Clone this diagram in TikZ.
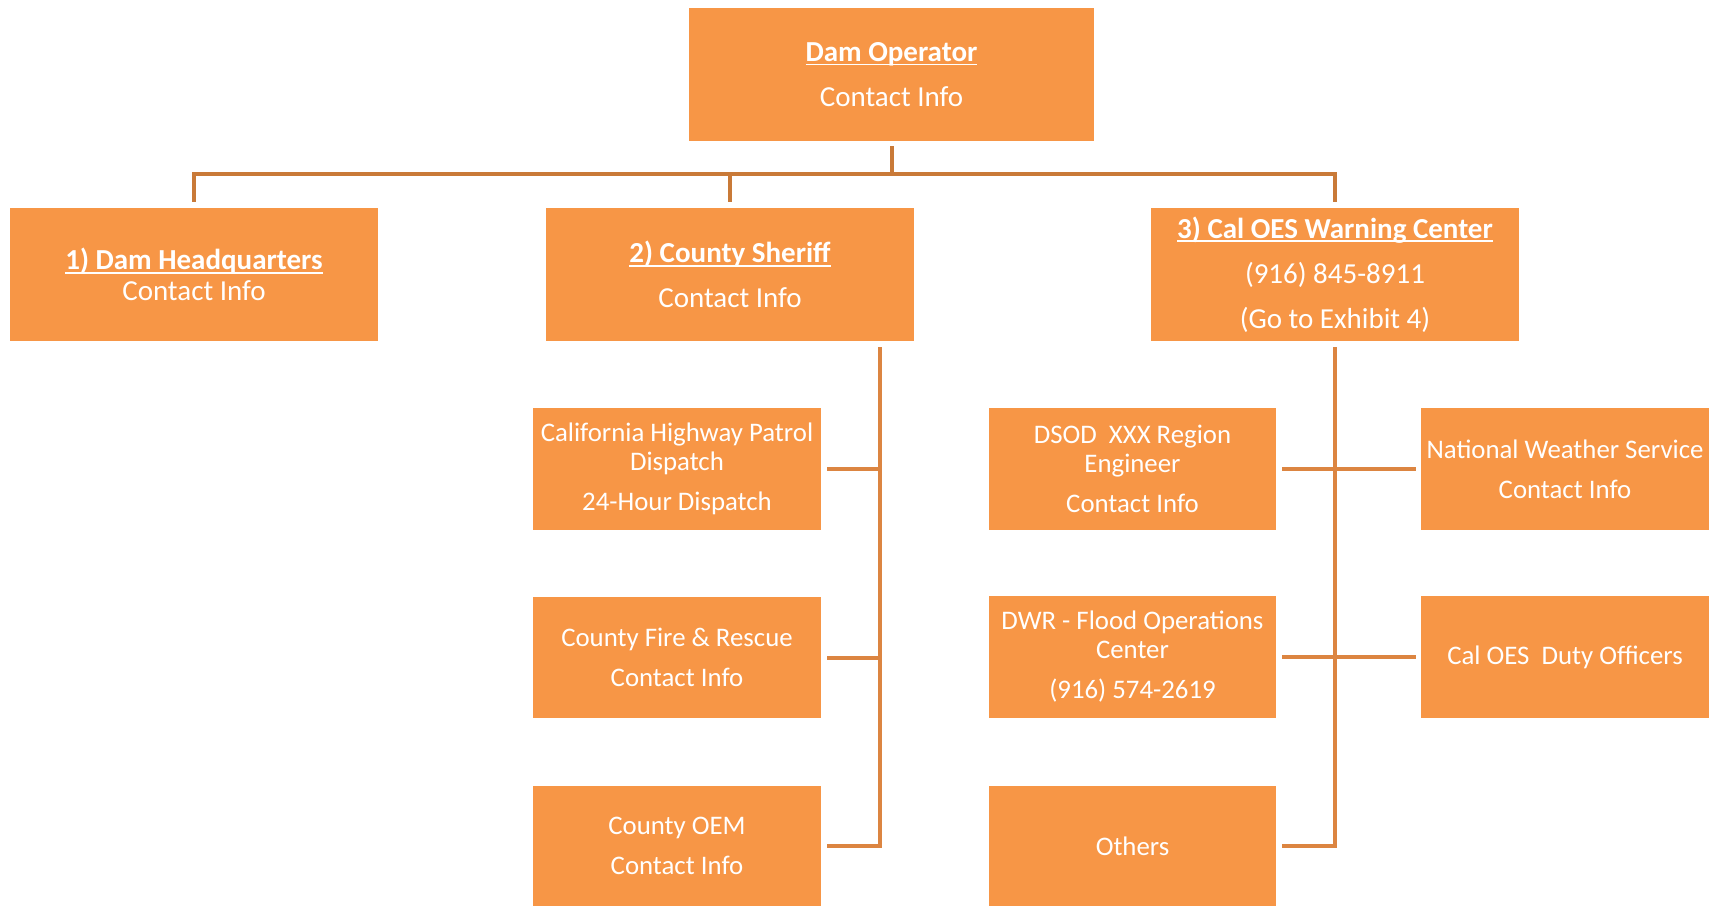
\documentclass[tikz,border=0pt]{standalone}
\usepackage{fontspec}
\setmainfont{Carlito}
\usetikzlibrary{calc}
\definecolor{boxfill}{HTML}{F79646}
\definecolor{busline}{HTML}{C97A38}
\definecolor{subline}{HTML}{DC8541}
\newcommand{\myul}[1]{{\setbox0\hbox{\bfseries #1}\rlap{\rule[-4pt]{\wd0}{1.8pt}}\box0}}
\tikzset{
  box/.style={fill=boxfill, draw=none, text=white, inner sep=0pt, align=center},
  bigbox/.style={box, minimum width=368pt, minimum height=133pt, font=\fontsize{29}{45}\selectfont},
  smallbox/.style={box, minimum width=288pt, minimum height=122pt, font=\fontsize{26.8}{29}\selectfont},
  bus/.style={draw=busline, line width=4pt},
  sub/.style={draw=subline, line width=4pt}
}
\begin{document}
\begin{tikzpicture}[x=1pt,y=-1pt]
\useasboundingbox (0,0) rectangle (1709,906);
% top level
\node[bigbox, minimum width=405pt] (dam) at (891.5,74.5) {\myul{Dam Operator}\\Contact Info};
\node[bigbox, font=\fontsize{29}{31}\selectfont] (h1) at (194,274.5) {\myul{1) Dam Headquarters}\\Contact Info};
\node[bigbox] (h2) at (730,274.5) {\myul{2) County Sheriff}\\Contact Info};
\node[bigbox] (h3) at (1335,274.5) {\myul{3) Cal OES Warning Center}\\(916) 845-8911\\(Go to Exhibit 4)};
% left column
\node[smallbox] (chp) at (677,469) {California Highway Patrol\\Dispatch\\[11pt]24-Hour Dispatch};
\node[smallbox, minimum height=121pt] (cfr) at (677,657.5) {County Fire \& Rescue\\[11pt]Contact Info};
\node[smallbox, minimum height=120pt] (oem) at (677,846) {County OEM\\[11pt]Contact Info};
% right columns
\node[smallbox, minimum width=287pt] (dsod) at (1132.5,469) {DSOD\ \ XXX Region\\Engineer\\[11pt]Contact Info};
\node[smallbox, minimum width=287pt] (dwr) at (1132.5,657) {DWR - Flood Operations\\Center\\[11pt](916) 574-2619};
\node[smallbox, minimum width=287pt, minimum height=120pt] (oth) at (1132.5,846) {Others};
\node[smallbox] (nws) at (1565,469) {National Weather Service\\[11pt]Contact Info};
\node[smallbox] (duty) at (1565,657) {Cal OES\ \ Duty Officers};
% bus
\coordinate (bus) at (0,174);
\draw[bus] ($(dam.south)+(0,5)$) -- (dam.south |- bus);
\draw[bus] ($(h1.north)+(0,-6)$) -- (h1.north |- bus) -- (h3.north |- bus) -- ($(h3.north)+(0,-6)$);
\draw[bus] (h2.north |- bus) -- ($(h2.north)+(0,-6)$);
% left vertical
\coordinate (lv) at (880,347);
\draw[sub] (lv) -- (lv |- oem.east) -- ($(oem.east)+(6,0)$);
\draw[sub] ($(chp.east)+(6,0)$) -- (lv |- chp.east);
\draw[sub] ($(cfr.east)+(6,0)$) -- (lv |- cfr.east);
% right vertical
\draw[sub] ($(h3.south)+(0,6)$) -- (h3.south |- oth.east) -- ($(oth.east)+(6,0)$);
\draw[sub] ($(dsod.east)+(6,0)$) -- ($(nws.west)+(-5,0)$);
\draw[sub] ($(dwr.east)+(6,0)$) -- ($(duty.west)+(-5,0)$);
\end{tikzpicture}
\end{document}
